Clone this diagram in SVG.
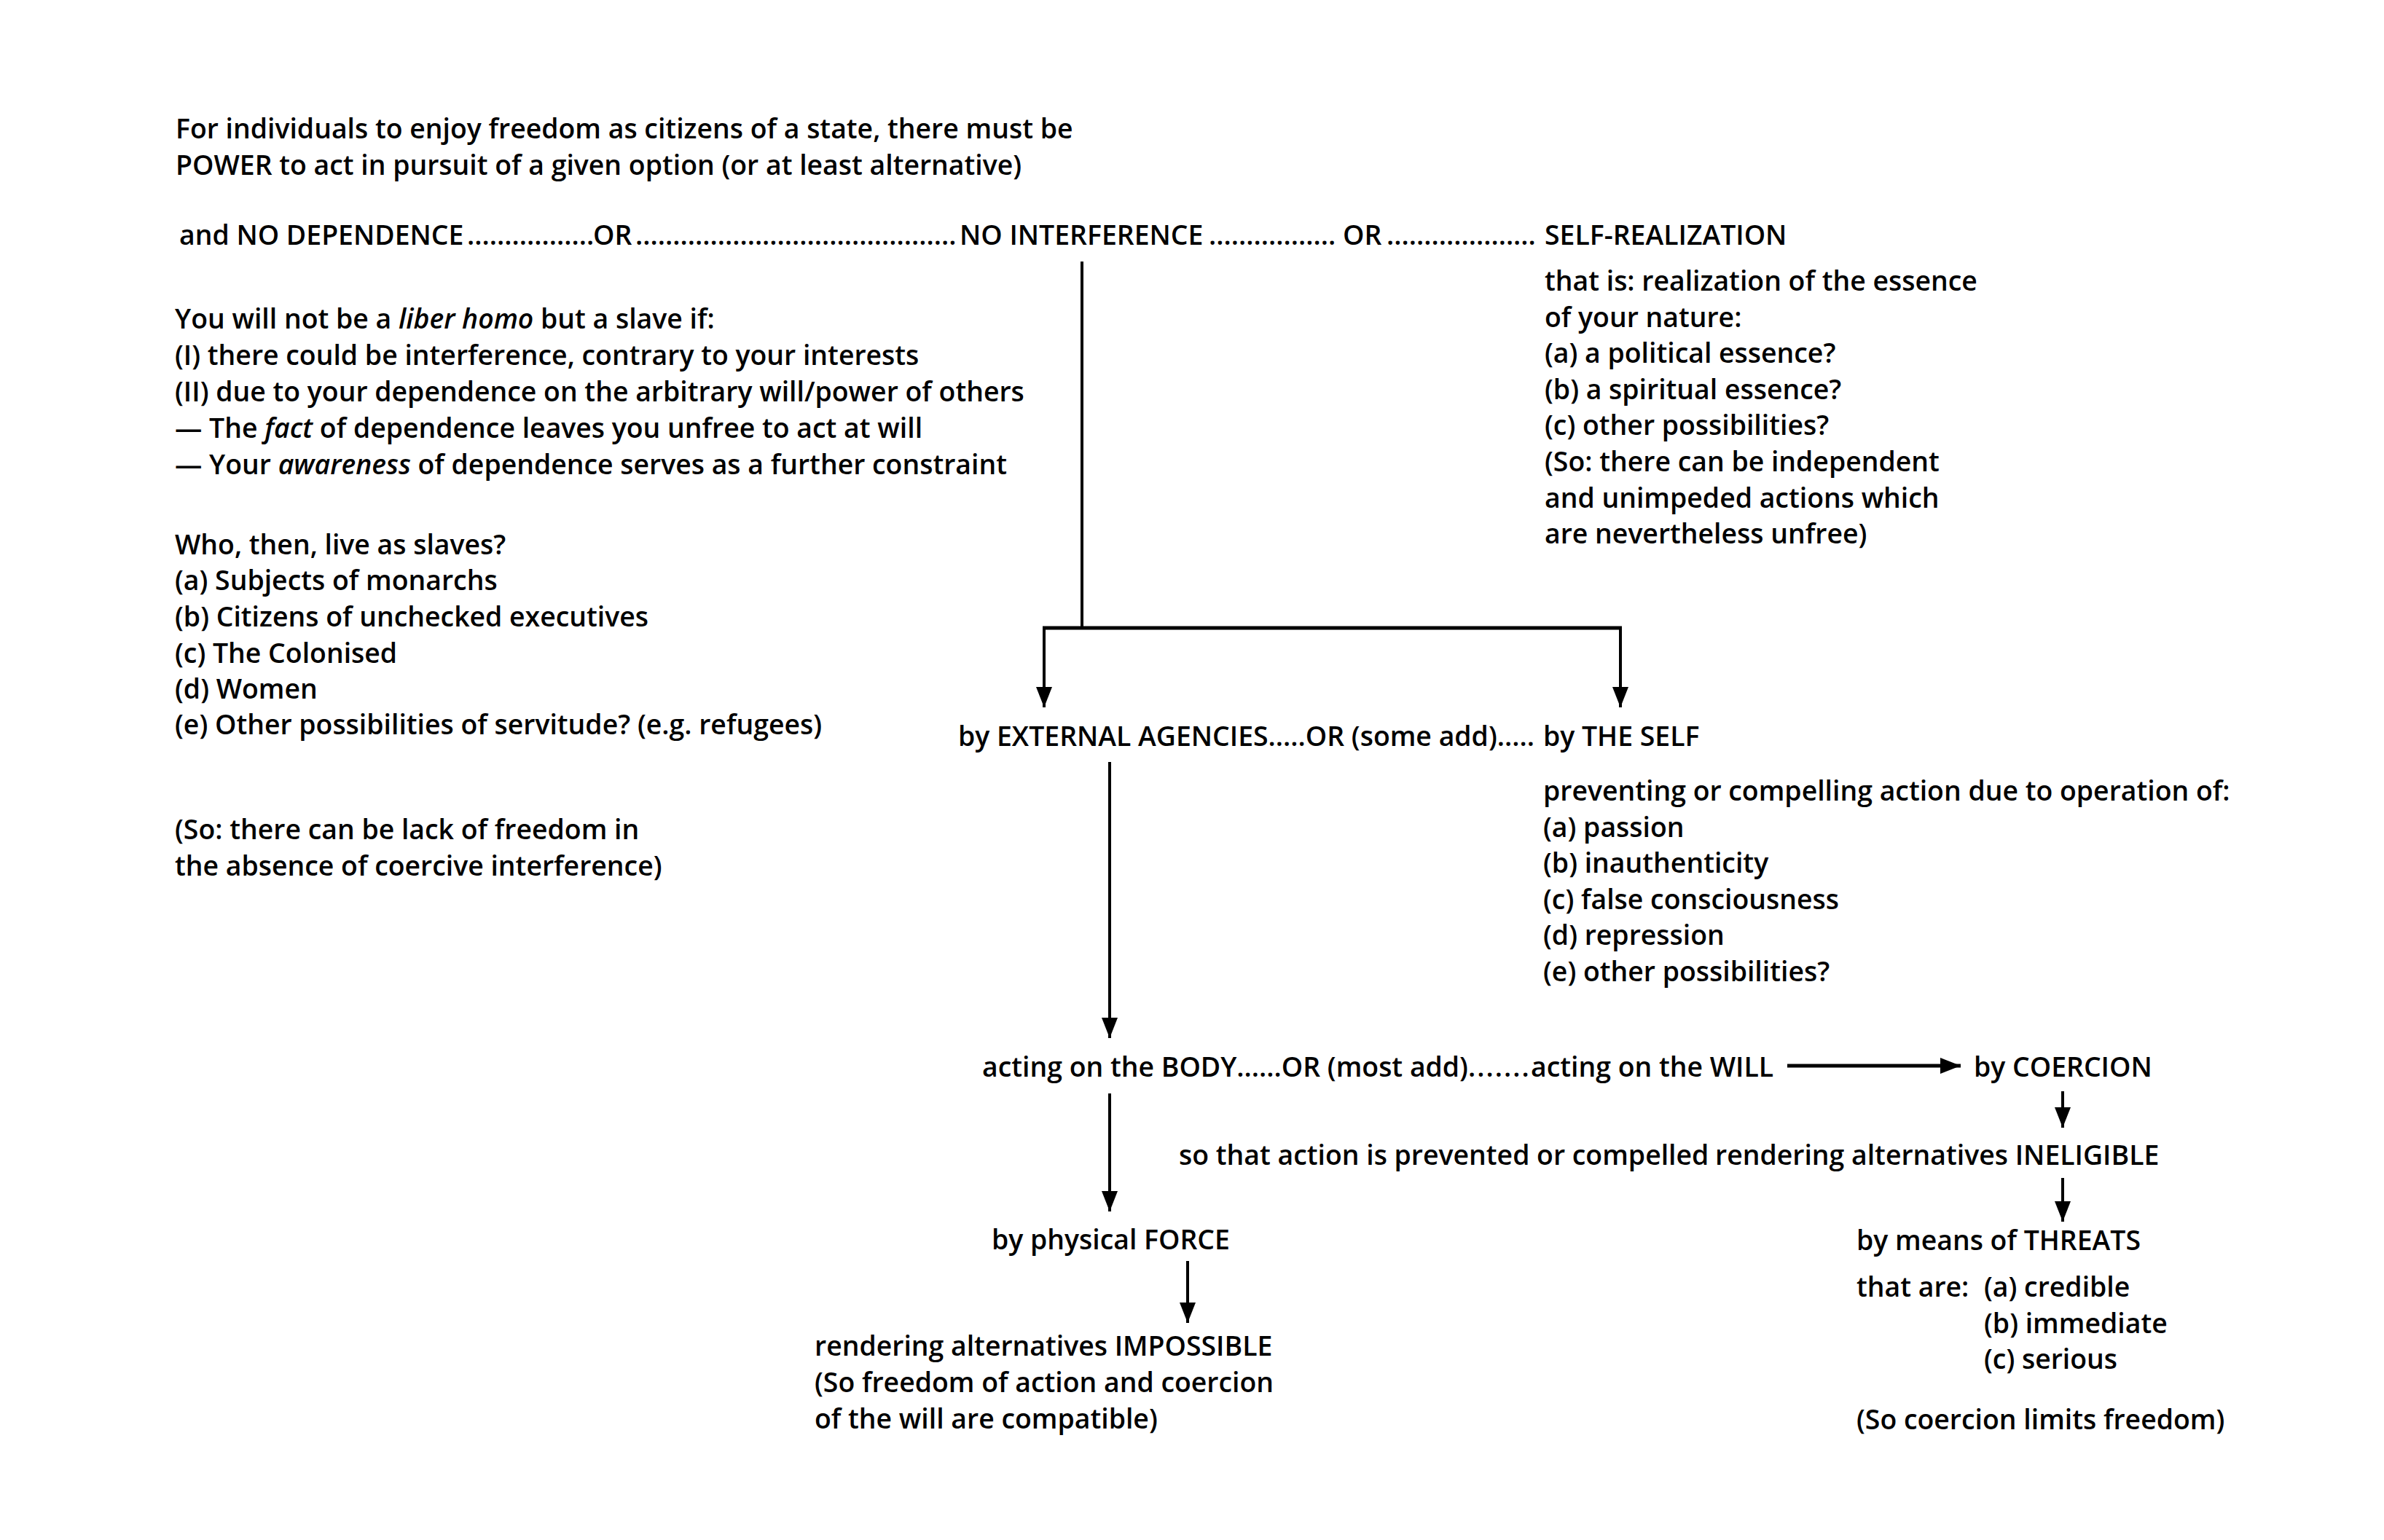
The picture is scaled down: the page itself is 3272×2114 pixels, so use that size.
<svg xmlns="http://www.w3.org/2000/svg" width="3272" height="2114" viewBox="0 0 3272 2114">
<style>
text{font-family:"Open Sans","Noto Sans","DejaVu Sans",sans-serif;font-size:37.4px;font-weight:600;fill:#000}
.c{stroke:#000;stroke-width:4;fill:none}
.t{stroke-width:5}
</style>
<defs>
<marker id="ah" markerUnits="userSpaceOnUse" markerWidth="30" markerHeight="24" refX="28" refY="11" orient="auto"><path d="M0,0 L28,11 L0,22 z" fill="#000"/></marker>
</defs>
<rect width="3272" height="2114" fill="#fff"/>
<g id="intro">
<text x="241" y="190">For individuals to enjoy freedom as citizens of a state, there must be</text>
<text x="241" y="240">POWER to act in pursuit of a given option (or at least alternative)</text>
</g>
<g id="row-options">
<text x="246" y="336">and NO DEPENDENCE</text>
<text x="641" y="336">.................</text>
<text x="814" y="336">OR</text>
<text x="872" y="336">...........................................</text>
<text x="1317" y="336">NO INTERFERENCE</text>
<text x="1659" y="336">.................</text>
<text x="1843" y="336">OR</text>
<text x="1903" y="336">....................</text>
<text x="2120" y="336">SELF-REALIZATION</text>
</g>
<g id="dependence">
<text x="240" y="451">You will not be a <tspan font-style="italic">liber homo</tspan> but a slave if:</text>
<text x="240" y="501">(I) there could be interference, contrary to your interests</text>
<text x="240" y="551">(II) due to your dependence on the arbitrary will/power of others</text>
<text x="240" y="601">— The <tspan font-style="italic">fact</tspan> of dependence leaves you unfree to act at will</text>
<text x="240" y="651">— Your <tspan font-style="italic">awareness</tspan> of dependence serves as a further constraint</text>
</g>
<g id="slaves">
<text x="240" y="761">Who, then, live as slaves?</text>
<text x="240" y="810">(a) Subjects of monarchs</text>
<text x="240" y="860">(b) Citizens of unchecked executives</text>
<text x="240" y="910">(c) The Colonised</text>
<text x="240" y="959">(d) Women</text>
<text x="240" y="1008">(e) Other possibilities of servitude? (e.g. refugees)</text>
</g>
<g id="lack">
<text x="240" y="1152">(So: there can be lack of freedom in</text>
<text x="240" y="1202">the absence of coercive interference)</text>
</g>
<g id="self-realization">
<text x="2120" y="399">that is: realization of the essence</text>
<text x="2120" y="449">of your nature:</text>
<text x="2120" y="498">(a) a political essence?</text>
<text x="2120" y="548">(b) a spiritual essence?</text>
<text x="2120" y="597">(c) other possibilities?</text>
<text x="2120" y="647">(So: there can be independent</text>
<text x="2120" y="697">and unimpeded actions which</text>
<text x="2120" y="746">are nevertheless unfree)</text>
</g>
<g id="agencies">
<text x="1315" y="1024">by EXTERNAL AGENCIES.....OR (some add).....</text>
<text x="2118" y="1024">by THE SELF</text>
</g>
<g id="self">
<text x="2118" y="1099">preventing or compelling action due to operation of:</text>
<text x="2118" y="1149">(a) passion</text>
<text x="2118" y="1198">(b) inauthenticity</text>
<text x="2118" y="1248">(c) false consciousness</text>
<text x="2118" y="1297">(d) repression</text>
<text x="2118" y="1347">(e) other possibilities?</text>
</g>
<g id="body-will">
<text x="1348" y="1478">acting on the BODY......OR (most add)<tspan letter-spacing="2">.......</tspan></text>
<text x="2101" y="1478">acting on the WILL</text>
</g>
<g id="coercion">
<text x="2709" y="1478">by COERCION</text>
</g>
<g id="prevented">
<text x="1618" y="1599">so that action is prevented or compelled</text>
<text x="2354" y="1599">rendering alternatives INELIGIBLE</text>
</g>
<g id="threats">
<text x="2548" y="1716">by means of THREATS</text>
<text x="2548" y="1780">that are:</text>
<text x="2723" y="1780">(a) credible</text>
<text x="2723" y="1830">(b) immediate</text>
<text x="2723" y="1879">(c) serious</text>
<text x="2548" y="1962">(So coercion limits freedom)</text>
</g>
<g id="force">
<text x="1361" y="1715">by physical FORCE</text>
</g>
<g id="impossible">
<text x="1118" y="1861">rendering alternatives IMPOSSIBLE</text>
<text x="1118" y="1911">(So freedom of action and coercion</text>
<text x="1118" y="1961">of the will are compatible)</text>
</g>
<g id="connectors">
<line class="c" x1="1485" y1="359" x2="1485" y2="862"/>
<line class="c t" x1="1431" y1="862" x2="2226" y2="862"/>
<line class="c" x1="1433" y1="862" x2="1433" y2="971" marker-end="url(#ah)"/>
<line class="c" x1="2224" y1="862" x2="2224" y2="971" marker-end="url(#ah)"/>
<line class="c" x1="1523" y1="1046" x2="1523" y2="1425" marker-end="url(#ah)"/>
<line class="c" x1="1523" y1="1501" x2="1523" y2="1663" marker-end="url(#ah)"/>
<line class="c" x1="1630" y1="1731" x2="1630" y2="1816" marker-end="url(#ah)"/>
<line class="c t" x1="2453" y1="1463" x2="2691" y2="1463" marker-end="url(#ah)"/>
<line class="c" x1="2831" y1="1498" x2="2831" y2="1548" marker-end="url(#ah)"/>
<line class="c" x1="2831" y1="1617" x2="2831" y2="1677" marker-end="url(#ah)"/>
</g>
</svg>
